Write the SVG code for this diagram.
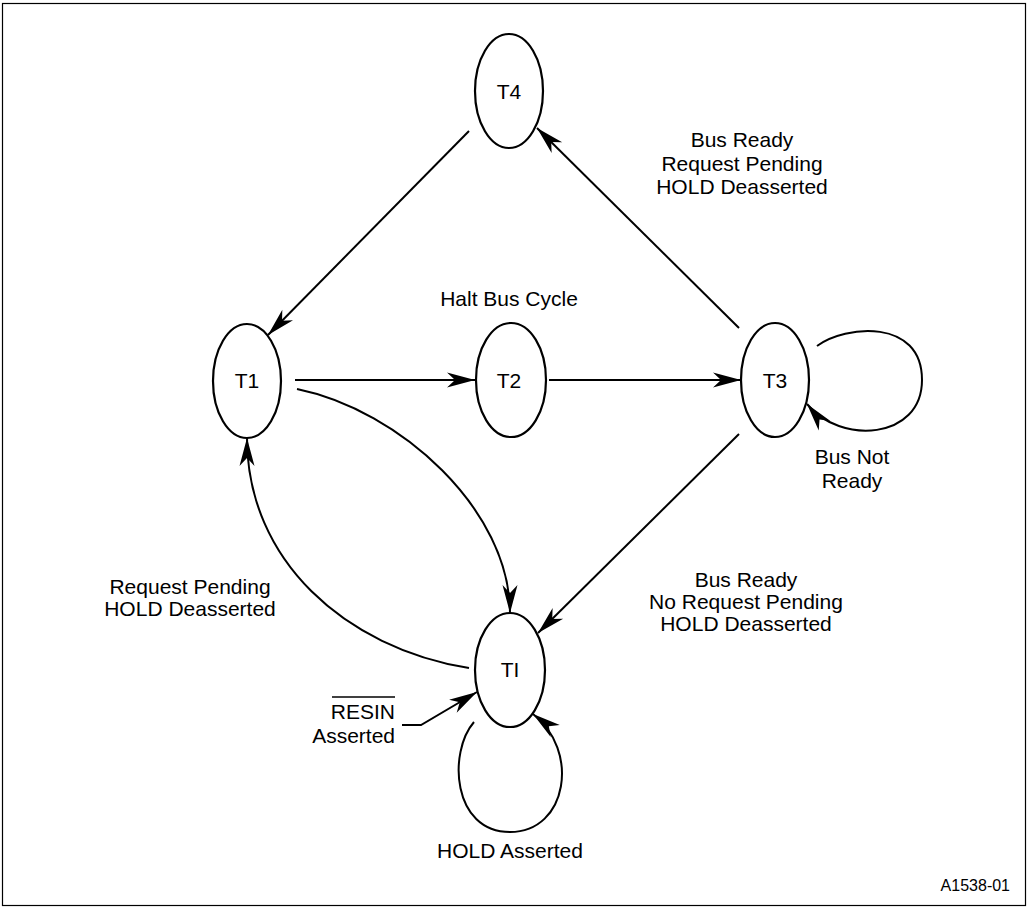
<svg xmlns="http://www.w3.org/2000/svg" width="1028" height="908" viewBox="0 0 1028 908">
<style>
.st{fill:#fff;stroke:#000;stroke-width:2.2}
.ln{fill:none;stroke:#000;stroke-width:2}
.t{font-family:"Liberation Sans",Arial,sans-serif;font-size:21px;fill:#000;text-anchor:middle}
.r{text-anchor:end}
</style>
<defs>
<marker id="ah" markerUnits="userSpaceOnUse" orient="auto" markerWidth="30" markerHeight="16" viewBox="0 0 30 16" refX="28" refY="8" overflow="visible">
<path d="M28,8 L0,0.5 L8,8 L0,15.5 Z" fill="#000"/>
</marker>
</defs>
<rect x="2.5" y="3.5" width="1023" height="902" fill="#fff" stroke="#000" stroke-width="1.2"/>
<g id="connectors">
<line class="ln" x1="469" y1="131" x2="268" y2="335" marker-end="url(#ah)"/>
<line class="ln" x1="739" y1="328" x2="537" y2="128" marker-end="url(#ah)"/>
<line class="ln" x1="295" y1="380" x2="475" y2="380" marker-end="url(#ah)"/>
<line class="ln" x1="549" y1="380" x2="741" y2="380" marker-end="url(#ah)"/>
<path class="ln" d="M297,389 C400,410 510,510 510,613" marker-end="url(#ah)"/>
<path class="ln" d="M469,668 C345,648 247,560 247,438" marker-end="url(#ah)"/>
<line class="ln" x1="739" y1="434" x2="538" y2="633" marker-end="url(#ah)"/>
<path class="ln" d="M817,346 C845,325 922,318 922,380 C922,440 840,445 807,404" marker-end="url(#ah)"/>
<path class="ln" d="M474,722 C448,752 452,832 510,832 C568,832 580,750 533,714" marker-end="url(#ah)"/>
<polyline class="ln" points="402,725 421,725 477,692" marker-end="url(#ah)"/>
</g>
<g id="T4"><ellipse class="st" cx="509" cy="91" rx="34" ry="57"/><text class="t" x="509" y="99">T4</text></g>
<g id="T1"><ellipse class="st" cx="247" cy="381" rx="34" ry="57"/><text class="t" x="247" y="388">T1</text></g>
<g id="T2"><ellipse class="st" cx="511" cy="380" rx="35" ry="57"/><text class="t" x="509" y="388">T2</text></g>
<g id="T3"><ellipse class="st" cx="775" cy="380" rx="34" ry="57"/><text class="t" x="775" y="388">T3</text></g>
<g id="TI"><ellipse class="st" cx="510" cy="670" rx="35" ry="57"/><text class="t" x="510" y="677">TI</text></g>
<g id="labels">
<text class="t" x="509" y="306">Halt Bus Cycle</text>
<text class="t" x="742" y="147">Bus Ready</text>
<text class="t" x="742" y="171">Request Pending</text>
<text class="t" x="742" y="194">HOLD Deasserted</text>
<text class="t" x="190" y="594">Request Pending</text>
<text class="t" x="190" y="616">HOLD Deasserted</text>
<text class="t" x="746" y="587">Bus Ready</text>
<text class="t" x="746" y="609">No Request Pending</text>
<text class="t" x="746" y="631">HOLD Deasserted</text>
<text class="t" x="852" y="464">Bus Not</text>
<text class="t" x="852" y="488">Ready</text>
<text class="t r" x="395" y="719">RESIN</text>
<line x1="332" y1="697" x2="395" y2="697" stroke="#000" stroke-width="1.6"/>
<text class="t r" x="395" y="743">Asserted</text>
<text class="t" x="510" y="858">HOLD Asserted</text>
<text class="t r" x="1010" y="891" style="font-size:16px">A1538-01</text>
</g>
</svg>
